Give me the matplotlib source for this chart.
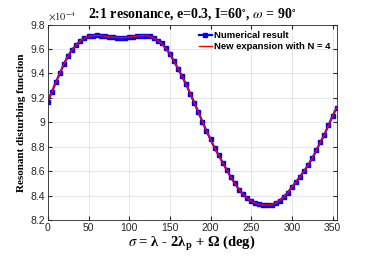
import numpy as np
import matplotlib
matplotlib.use('Agg')
import matplotlib.pyplot as plt

# sigma in degrees, resonant disturbing function in units of 1e-4
sigma = list(range(0, 360, 5))
numerical = [9.17, 9.25, 9.33, 9.405, 9.48, 9.545, 9.595, 9.635, 9.668, 9.69,
             9.703, 9.709, 9.711, 9.709, 9.705, 9.700, 9.696, 9.693, 9.692, 9.693,
             9.696, 9.701, 9.706, 9.709, 9.710, 9.704, 9.690, 9.668, 9.645, 9.605,
             9.56, 9.50, 9.44, 9.375, 9.31, 9.235, 9.16, 9.085, 9.005, 8.93,
             8.86, 8.79, 8.73, 8.67, 8.61, 8.55, 8.50, 8.45, 8.41, 8.38,
             8.355, 8.34, 8.33, 8.323, 8.322, 8.327, 8.34, 8.36, 8.39, 8.425,
             8.47, 8.51, 8.555, 8.60, 8.65, 8.705, 8.77, 8.835, 8.90, 8.975,
             9.05, 9.12]
expansion = numerical  # N = 4 expansion overlaps the numerical curve

yticks = [8.2, 8.4, 8.6, 8.8, 9.0, 9.2, 9.4, 9.6, 9.8]
xticks = [0, 50, 100, 150, 200, 250, 300, 350]

plt.rcParams['mathtext.fontset'] = 'stix'
tick_col = '#262626'

fig = plt.figure(figsize=(3.74, 2.58), dpi=100)
ax = fig.add_axes([0.128, 0.147, 0.772, 0.758])

ax.plot(sigma, numerical, '-s', color='blue', lw=1.6, ms=3,
        label='Numerical result')
ax.plot(sigma, expansion, '-', color='red', lw=1.0,
        label='New expansion with N = 4')

ax.set_xlim(0, 355)
ax.set_ylim(8.2, 9.8)
ax.set_xticks(xticks)
ax.set_yticks(yticks)
ax.set_yticklabels(['%g' % t for t in yticks])
ax.tick_params(direction='in', length=3, top=True, right=True, labelsize=7.5,
               colors=tick_col, labelcolor=tick_col, pad=2)
for lab in ax.get_xticklabels() + ax.get_yticklabels():
    lab.set_family('Liberation Sans')
for s in ax.spines.values():
    s.set_color(tick_col)
    s.set_linewidth(0.6)
ax.grid(True, color='#dddddd', lw=0.5)

ax.text(0.0, 1.008, r'$\times10^{-4}$', transform=ax.transAxes, fontsize=7.5,
        color=tick_col, family='Liberation Sans', va='bottom')

ax.set_title(r'2:1 resonance, e=0.3, I=60$^{\circ}$, $\omega$ = 90$^{\circ}$',
             family='Liberation Serif', weight='bold', fontsize=10, pad=5)
ax.set_xlabel(r'$\sigma$ = λ - 2λ$_{\mathbf{p}}$ + Ω (deg)',
              family='Liberation Serif', weight='bold', fontsize=10.5, labelpad=1)
ax.set_ylabel('Resonant disturbing function', family='Liberation Serif',
              weight='bold', fontsize=8, labelpad=3)

ax.legend(loc='upper right', frameon=False, prop={'family': 'Liberation Sans',
          'weight': 'bold', 'size': 6.8}, handlelength=1.4, handletextpad=0.2,
          borderaxespad=0.3, labelspacing=0.25)

plt.savefig('out.png', dpi=100)
